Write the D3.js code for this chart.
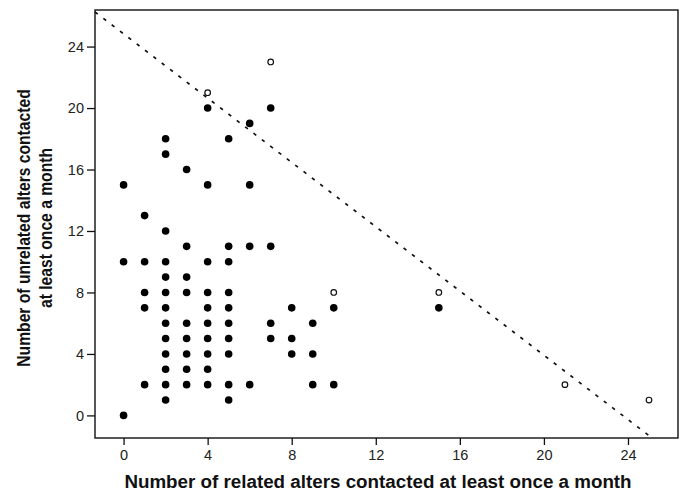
<!DOCTYPE html>
<html>
<head>
<meta charset="utf-8">
<script src="https://d3js.org/d3.v7.min.js"></script>
<style>
	body { margin: 0; background: #fff; }
	text { font-family: Arial, "Liberation Sans", sans-serif; }
</style>
</head>
<body>
<svg id="chart"></svg>
<script>
// filled points: related (x) / unrelated (y) alters
var relatedX = [0, 0, 0,
	1, 1, 1, 1, 1,
	2, 2, 2, 2, 2, 2, 2, 2, 2, 2, 2, 2, 2,
	3, 3, 3, 3, 3, 3, 3, 3, 3,
	4, 4, 4, 4, 4, 4, 4, 4, 4, 4,
	5, 5, 5, 5, 5, 5, 5, 5, 5, 5,
	6, 6, 6, 6,
	7, 7, 7, 7,
	8, 8, 8,
	9, 9, 9,
	10, 10,
	15];
var unrelatedY = [0, 10, 15,
	2, 7, 8, 10, 13,
	1, 2, 3, 4, 5, 6, 7, 8, 9, 10, 12, 17, 18,
	2, 3, 4, 5, 6, 8, 9, 11, 16,
	2, 3, 4, 5, 6, 7, 8, 10, 15, 20,
	1, 2, 4, 5, 6, 7, 8, 10, 11, 18,
	2, 11, 15, 19,
	5, 6, 11, 20,
	4, 5, 7,
	2, 4, 6,
	2, 7,
	7];

// open circles
var openX = [4, 7, 10, 15, 21, 25];
var openY = [21, 23, 8, 8, 2, 1];

// dashed reference line end points
var lineX = [-1.36, 25.1];
var lineY = [26.25, -1.42];

var xTicks = [0, 4, 8, 12, 16, 20, 24];
var yTicks = [0, 4, 8, 12, 16, 20, 24];

var svg = d3.select("#chart").attr("width", 686).attr("height", 494),
	margin = {top: 10, right: 8, bottom: 56, left: 95},
	width = +svg.attr("width") - margin.left - margin.right,
	height = +svg.attr("height") - margin.top - margin.bottom;

var xScale = d3.scaleLinear()
	.domain([-1.36, 26.38])
	.range([0, width]);

var yScale = d3.scaleLinear()
	.domain([-1.47, 26.38])
	.range([height, 0]);

var g = svg.append("g")
	.attr("transform", "translate(" + margin.left + "," + margin.top + ")");

// axes
var bottomAxis = g.append("g")
	.attr("transform", "translate(0," + height + ")")
	.call(d3.axisBottom(xScale).tickValues(xTicks).tickSize(7).tickPadding(5));

var leftAxis = g.append("g")
	.call(d3.axisLeft(yScale).tickValues(yTicks).tickSize(8).tickPadding(3));

[bottomAxis, leftAxis].forEach(function(ax){
	ax.select(".domain").remove();
	ax.selectAll("line").attr("stroke", "#111").attr("stroke-width", 1.3);
	ax.selectAll("text")
		.attr("font-family", "Arial, 'Liberation Sans', sans-serif")
		.attr("font-size", 14.5)
		.attr("fill", "#222");
});

// frame
g.append("rect")
	.attr("x", 0)
	.attr("y", 0)
	.attr("width", width)
	.attr("height", height)
	.attr("fill", "none")
	.attr("stroke", "#111")
	.attr("stroke-width", 1.4);

// dashed line
g.append("line")
	.attr("x1", xScale(lineX[0]))
	.attr("y1", yScale(lineY[0]))
	.attr("x2", xScale(lineX[1]))
	.attr("y2", yScale(lineY[1]))
	.attr("stroke", "#111")
	.attr("stroke-width", 1.7)
	.attr("stroke-dasharray", "3.5,7");

g.selectAll(".dot")
	.data(relatedX)
	.enter()
	.append("circle")
		.attr("class", "dot")
		.attr("cx", function(d){ return xScale(d); })
		.attr("cy", function(d, i){ return yScale(unrelatedY[i]); })
		.attr("r", 3.8)
		.attr("fill", "#000");

g.selectAll(".open")
	.data(openX)
	.enter()
	.append("circle")
		.attr("class", "open")
		.attr("cx", function(d){ return xScale(d); })
		.attr("cy", function(d, i){ return yScale(openY[i]); })
		.attr("r", 2.8)
		.attr("fill", "#fff")
		.attr("stroke", "#111")
		.attr("stroke-width", 1.2);

// axis titles
svg.append("text")
	.attr("x", 378)
	.attr("y", 488)
	.attr("text-anchor", "middle")
	.attr("font-weight", "bold")
	.attr("font-size", 18.8)
	.attr("fill", "#111")
	.text("Number of related alters contacted at least once a month");

// y title is squeezed along its length in the original
var yTitle = svg.append("text")
	.attr("transform", "translate(30,228) scale(1,0.87) rotate(-90)")
	.attr("text-anchor", "middle")
	.attr("font-weight", "bold")
	.attr("font-size", 18)
	.attr("fill", "#111");

yTitle.append("tspan")
	.attr("x", 0)
	.attr("y", 0)
	.text("Number of unrelated alters contacted");

yTitle.append("tspan")
	.attr("x", 0)
	.attr("y", 22)
	.text("at least once a month");
</script>
</body>
</html>
